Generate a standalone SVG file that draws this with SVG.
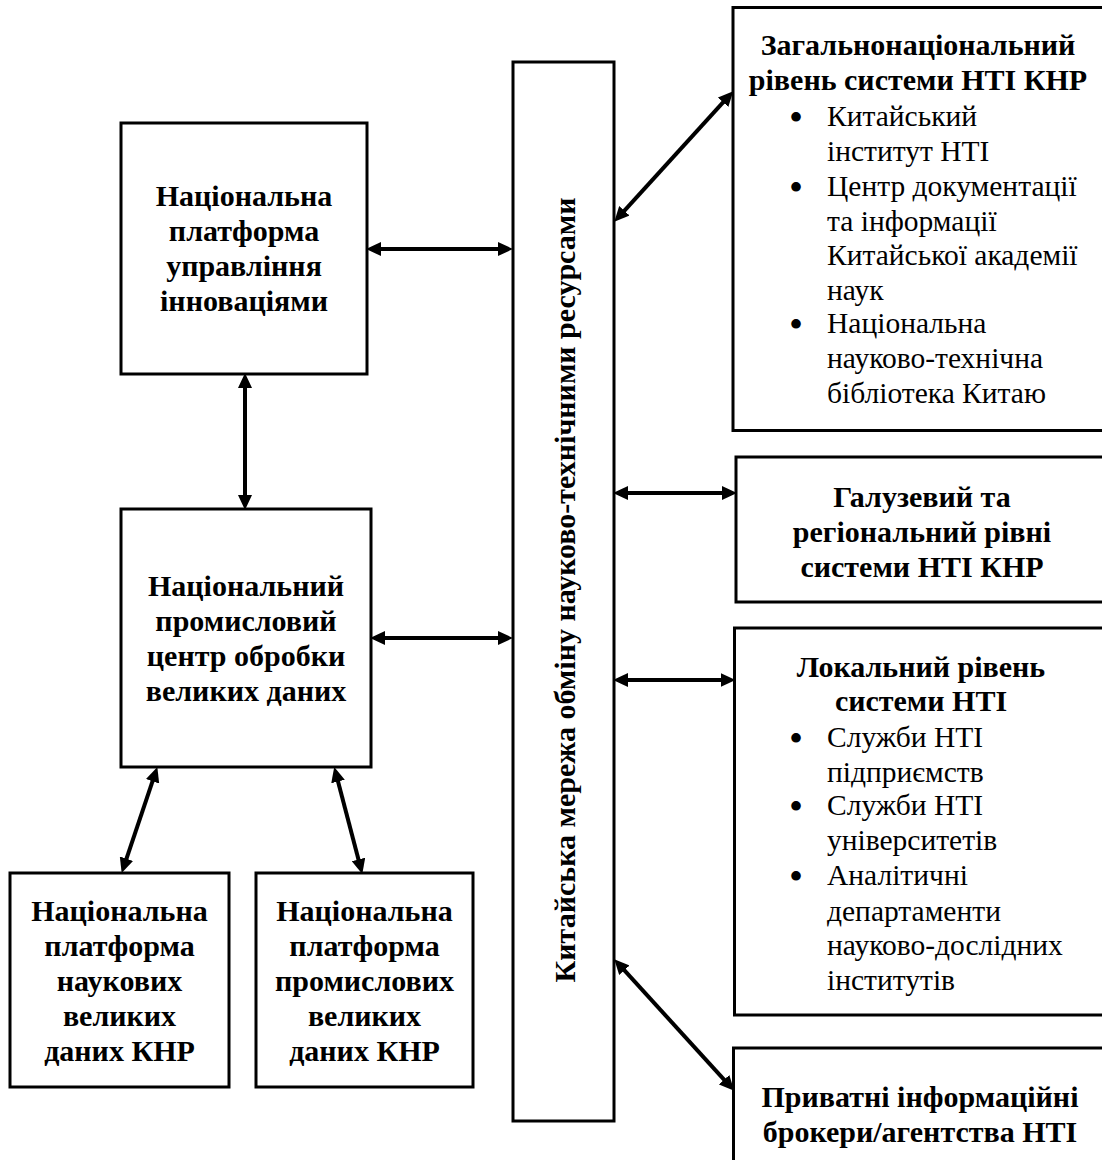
<svg xmlns="http://www.w3.org/2000/svg" width="1102" height="1160" viewBox="0 0 1102 1160" font-family="'Liberation Serif', 'Times New Roman', serif">
<style>
  .box { fill: #ffffff; stroke: #000000; stroke-width: 3; }
  .t { font-family: 'Liberation Serif', 'Times New Roman', serif; font-size: 29.5px; fill: #000000; }
  .b { font-weight: bold; font-size: 30px; }
  .c { text-anchor: middle; }
  .bul { font-family: 'Liberation Serif', 'Times New Roman', serif; font-size: 40px; text-anchor: middle; fill: #000000; }
  .con { stroke: #000000; stroke-width: 4; fill: none; marker-start: url(#ah); marker-end: url(#ah); }
</style>
<defs>
  <marker id="ah" markerUnits="userSpaceOnUse" markerWidth="16" markerHeight="14" refX="8" refY="7" orient="auto-start-reverse">
    <path d="M0,0 L15,7 L0,14 Z" fill="#000000"/>
  </marker>
</defs>
<rect width="1102" height="1160" fill="#ffffff"/>

<g id="node-innovation">
  <rect class="box" x="121" y="123" width="246" height="251"/>
  <text class="t b c"><tspan x="244" y="206">Національна</tspan><tspan x="244" y="241">платформа</tspan><tspan x="244" y="276">управління</tspan><tspan x="244" y="311">інноваціями</tspan></text>
</g>

<g id="node-bigdata-center">
  <rect class="box" x="121" y="509" width="250" height="258"/>
  <text class="t b c"><tspan x="246" y="596">Національний</tspan><tspan x="246" y="631">промисловий</tspan><tspan x="246" y="666">центр обробки</tspan><tspan x="246" y="701">великих даних</tspan></text>
</g>

<g id="node-science-bigdata">
  <rect class="box" x="10" y="873" width="219" height="214"/>
  <text class="t b c"><tspan x="119.5" y="921">Національна</tspan><tspan x="119.5" y="956">платформа</tspan><tspan x="119.5" y="991">наукових</tspan><tspan x="119.5" y="1026">великих</tspan><tspan x="119.5" y="1061">даних КНР</tspan></text>
</g>

<g id="node-industrial-bigdata">
  <rect class="box" x="256" y="873" width="217" height="214"/>
  <text class="t b c"><tspan x="364.5" y="921">Національна</tspan><tspan x="364.5" y="956">платформа</tspan><tspan x="364.5" y="991">промислових</tspan><tspan x="364.5" y="1026">великих</tspan><tspan x="364.5" y="1061">даних КНР</tspan></text>
</g>

<g id="node-network">
  <rect class="box" x="513" y="62" width="101" height="1059"/>
  <text class="t b c" transform="translate(575,590) rotate(-90)">Китайська мережа обміну науково-технічними ресурсами</text>
</g>

<g id="node-national-level">
  <rect class="box" x="733" y="7.5" width="372" height="423"/>
  <text class="t b c"><tspan x="918" y="55">Загальнонаціональний</tspan><tspan x="918" y="90">рівень системи НТІ КНР</tspan></text>
  <text class="bul"><tspan x="796" y="131">•</tspan><tspan x="796" y="201">•</tspan><tspan x="796" y="338">•</tspan></text>
  <text class="t"><tspan x="827" y="126">Китайський</tspan><tspan x="827" y="161">інститут НТІ</tspan><tspan x="827" y="196">Центр документації</tspan><tspan x="827" y="231">та інформації</tspan><tspan x="827" y="265">Китайської академії</tspan><tspan x="827" y="300">наук</tspan><tspan x="827" y="333">Національна</tspan><tspan x="827" y="368">науково-технічна</tspan><tspan x="827" y="403">бібліотека Китаю</tspan></text>
</g>

<g id="node-sectoral-level">
  <rect class="box" x="736" y="457" width="370" height="145"/>
  <text class="t b c"><tspan x="922" y="507">Галузевий та</tspan><tspan x="922" y="542">регіональний рівні</tspan><tspan x="922" y="577">системи НТІ КНР</tspan></text>
</g>

<g id="node-local-level">
  <rect class="box" x="734.5" y="628" width="370" height="387"/>
  <text class="t b c"><tspan x="921" y="677">Локальний рівень</tspan><tspan x="921" y="711">системи НТІ</tspan></text>
  <text class="bul"><tspan x="796" y="752">•</tspan><tspan x="796" y="820">•</tspan><tspan x="796" y="890">•</tspan></text>
  <text class="t"><tspan x="827" y="747">Служби НТІ</tspan><tspan x="827" y="782">підприємств</tspan><tspan x="827" y="815">Служби НТІ</tspan><tspan x="827" y="850">університетів</tspan><tspan x="827" y="885">Аналітичні</tspan><tspan x="827" y="921">департаменти</tspan><tspan x="827" y="955">науково-дослідних</tspan><tspan x="827" y="990">інститутів</tspan></text>
</g>

<g id="node-private-brokers">
  <rect class="box" x="733.5" y="1048" width="372" height="120"/>
  <text class="t b c"><tspan x="920" y="1107">Приватні інформаційні</tspan><tspan x="920" y="1142">брокери/агентства НТІ</tspan></text>
</g>

<g id="connectors">
  <line class="con" x1="373" y1="249" x2="506" y2="249"/>
  <line class="con" x1="245" y1="380" x2="245" y2="503"/>
  <line class="con" x1="377" y1="638" x2="506" y2="638"/>
  <line class="con" x1="155.1" y1="773.7" x2="123.9" y2="866.3"/>
  <line class="con" x1="336" y1="773.8" x2="360.5" y2="867.2"/>
  <line class="con" x1="619" y1="216.6" x2="728.5" y2="96.4"/>
  <line class="con" x1="620" y1="493" x2="730" y2="493"/>
  <line class="con" x1="620" y1="680" x2="728.5" y2="680"/>
  <line class="con" x1="619" y1="964.4" x2="729.5" y2="1085.6"/>
</g>
</svg>
